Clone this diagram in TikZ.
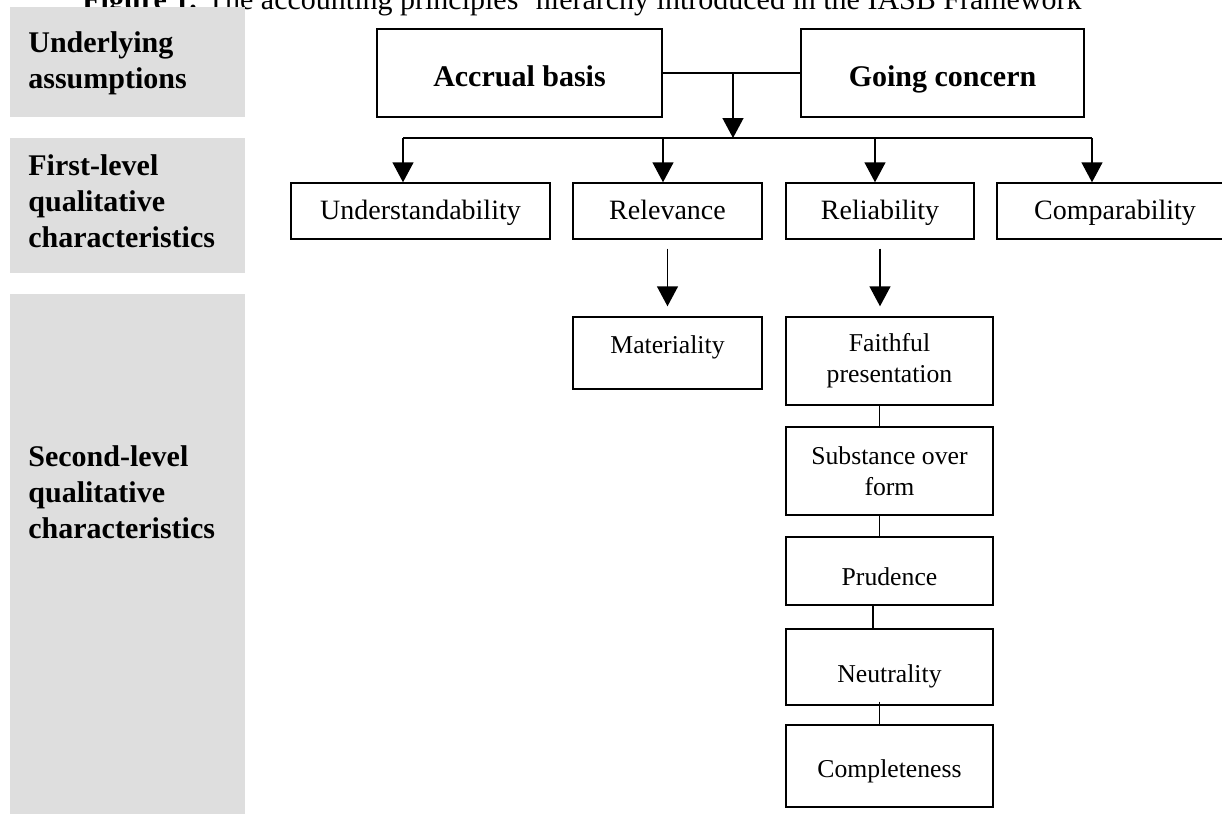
\documentclass[tikz,border=0pt]{standalone}
\usepackage{fontspec}
\setmainfont{Liberation Serif}
\usepackage{tikz}
\usetikzlibrary{arrows.meta}
\definecolor{panelgray}{RGB}{222,222,222}
\tikzstyle{panel} = [fill=panelgray]
\tikzstyle{rowtitle} = [anchor=base west, inner sep=0pt, align=left, font=\fontsize{15}{18}\selectfont\bfseries]
\tikzstyle{topbox} = [rectangle, draw=black, line width=0.7pt, inner sep=0pt, text height=28.5pt, text depth=15.5pt, font=\fontsize{15}{18}\selectfont\bfseries]
\tikzstyle{firstbox} = [rectangle, draw=black, line width=0.7pt, inner sep=0pt, text height=18pt, text depth=10pt, font=\fontsize{14}{17}\selectfont]
\tikzstyle{secondbox} = [rectangle, draw=black, line width=0.7pt, inner sep=0pt, minimum width=103.5pt, align=center, font=\fontsize{12.85}{15.5}\selectfont]
\tikzstyle{link} = [line width=0.7pt]
\tikzstyle{arrow} = [line width=0.7pt,-{Triangle[length=10pt,width=10.5pt]}]

\begin{document}
\begin{tikzpicture}[x=0.5pt, y=-0.5pt]
            \useasboundingbox (0,0) rectangle (1222,814);
            \node (title) [anchor=base west, inner sep=0pt, font=\fontsize{15}{18}\selectfont] at (82,9) {\textbf{Figure 1.} The accounting principles’ hierarchy introduced in the IASB Framework};

            \fill [panel] (10,7) rectangle (245,117);
            \fill [panel] (10,138) rectangle (245,273);
            \fill [panel] (10,294) rectangle (245,814);
            \node (assump) [rowtitle] at (28,88) {Underlying\\assumptions};
            \node (firstlvl) [rowtitle] at (28,247) {First-level\\qualitative\\characteristics};
            \node (secondlvl) [rowtitle] at (28,538) {Second-level\\qualitative\\characteristics};

            \node (accrual) [topbox, minimum width=142.5pt] at (519.5,73) {Accrual basis};
            \node (going) [topbox, minimum width=141.5pt] at (942.5,73) {Going concern};

            \node (underst) [firstbox, minimum width=129.5pt] at (420.5,211) {Understandability};
            \node (relev) [firstbox, minimum width=94.5pt] at (667.5,211) {Relevance};
            \node (reliab) [firstbox, minimum width=94pt] at (880,211) {Reliability};
            \node (compar) [firstbox, minimum width=118pt] at (1115,211) {Comparability};

            \node (mater) [secondbox, minimum width=94.5pt, text height=18pt, text depth=18pt] at (667.5,353) {Materiality};
            \node (faithful) [secondbox, minimum height=44pt] at (889.5,361) {Faithful\\presentation};
            \node (substance) [secondbox, minimum height=44pt] at (889.5,471) {Substance over\\form};
            \node (prudence) [secondbox, text height=24pt, text depth=10pt] at (889.5,571) {Prudence};
            \node (neutral) [secondbox, text height=26.5pt, text depth=11.5pt] at (889.5,667) {Neutrality};
            \node (complete) [secondbox, text height=26pt, text depth=15pt] at (889.5,766) {Completeness};

            \coordinate (split) at (733,73);
            \coordinate (hub) at (733,138);
            \coordinate (busa) at (403,138);
            \coordinate (busb) at (663,138);
            \coordinate (busc) at (875,138);
            \coordinate (busd) at (1092,138);

            \draw [link] (accrual) -- (going);
            \draw [arrow] (split) -- (hub);
            \draw [link] (busa) -- (busd);
            \draw [arrow] (busa) -- (busa |- underst.north);
            \draw [arrow] (busb) -- (busb |- relev.north);
            \draw [arrow] (busc) -- (busc |- reliab.north);
            \draw [arrow] (busd) -- (busd |- compar.north);

            \draw [arrow, shorten <=4.5pt, shorten >=5pt] (relev) -- (mater);
            \draw [arrow, shorten <=4.5pt, shorten >=5pt] (reliab.south) -- (reliab.south |- faithful.north);

            \draw [link] ([xshift=-5pt]faithful.south) -- ([xshift=-5pt]substance.north);
            \draw [link] ([xshift=-5pt]substance.south) -- ([xshift=-5pt]prudence.north);
            \draw [link] ([xshift=-8.25pt]prudence.south) -- ([xshift=-8.25pt]neutral.north);
            \draw [link] ([xshift=-5pt,yshift=2pt]neutral.south) -- ([xshift=-5pt]complete.north);
        \end{tikzpicture}
\end{document}
